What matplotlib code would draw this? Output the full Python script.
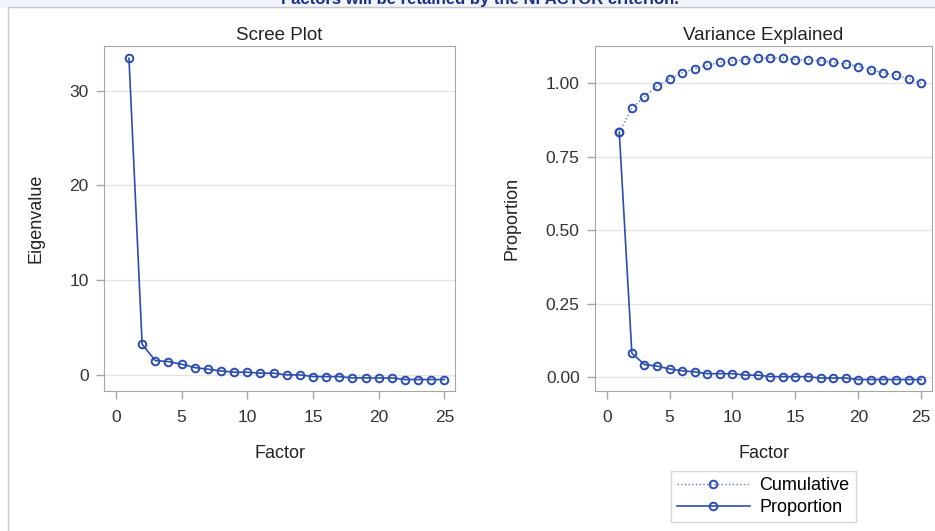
import matplotlib.pyplot as plt
from matplotlib.lines import Line2D

plt.rcParams['font.family'] = ['Liberation Sans', 'DejaVu Sans']

factors = list(range(1, 26))
eigenvalues = [33.4, 3.24, 1.51, 1.40, 1.13, 0.77, 0.60, 0.42, 0.28, 0.28,
               0.18, 0.18, 0.00, 0.00, -0.18, -0.18, -0.18, -0.32, -0.32, -0.32,
               -0.32, -0.49, -0.49, -0.49, -0.49]
proportion = [0.833, 0.081, 0.042, 0.037, 0.027, 0.021, 0.017, 0.011, 0.011, 0.011,
              0.006, 0.006, 0.001, 0.001, 0.001, 0.001, -0.004, -0.004, -0.004, -0.009,
              -0.009, -0.009, -0.009, -0.009, -0.009]
cumulative = [0.833, 0.915, 0.954, 0.991, 1.015, 1.036, 1.050, 1.061, 1.071, 1.075,
              1.080, 1.086, 1.086, 1.086, 1.080, 1.080, 1.076, 1.071, 1.066, 1.057,
              1.045, 1.036, 1.027, 1.016, 1.000]
x_ticks = [0, 5, 10, 15, 20, 25]
eig_ticks = [0, 10, 20, 30]
prop_ticks = [0.0, 0.25, 0.5, 0.75, 1.0]
prop_labels = ['0.00', '0.25', '0.50', '0.75', '1.00']

blue = '#2B4DB0'
frame = '#A6A6A6'
W, H = 935, 531

fig = plt.figure(figsize=(W / 100, H / 100), dpi=100)

# top banner with the note that is cut off in the original
fig.patches.append(plt.Rectangle((0, 1 - 7 / H), 1, 7 / H, transform=fig.transFigure,
                                 color='#F1F4FB', zorder=0))
fig.text(480 / W, 1 - 4 / H, 'Factors will be retained by the NFACTOR criterion.',
         ha='center', va='baseline', fontsize=12, fontweight='bold', color='#1B2E8A')
fig.add_artist(Line2D([8 / W, 1], [1 - 7 / H, 1 - 7 / H], transform=fig.transFigure,
                      color='#C8C8C8', lw=1))
fig.add_artist(Line2D([8 / W, 8 / W], [0, 1 - 7 / H], transform=fig.transFigure,
                      color='#C8C8C8', lw=1))


def style(ax):
    for s in ax.spines.values():
        s.set_color(frame)
    ax.tick_params(labelcolor='#333333', labelsize=12.5, length=6, width=1, color=frame)
    ax.tick_params(axis='x', pad=8)
    ax.tick_params(axis='y', pad=5)
    ax.yaxis.grid(True, color='#E4E4E4', lw=1)
    ax.set_axisbelow(True)
    ax.set_xticks(x_ticks)
    ax.set_xlabel('Factor', fontsize=13, color='#222222', labelpad=14)


ax1 = fig.add_axes([104 / W, 1 - 391 / H, 351 / W, 345 / H])
ax1.plot(factors, eigenvalues, color=blue, lw=1.2, marker='o', ms=5.5,
         mfc='none', mec=blue, mew=1.4)
ax1.set_xlim(-0.9, 25.8)
ax1.set_ylim(-1.7, 34.7)
ax1.set_yticks(eig_ticks)
ax1.set_ylabel('Eigenvalue', fontsize=13, color='#222222', labelpad=18)
ax1.set_title('Scree Plot', fontsize=13.5, color='#222222', pad=4)
style(ax1)

ax2 = fig.add_axes([595 / W, 1 - 391 / H, 337 / W, 345 / H])
ax2.plot(factors, cumulative, color='#5C7BD0', lw=1, ls=':', marker='o', ms=5.5,
         mfc='none', mec=blue, mew=1.4, label='Cumulative')
ax2.plot(factors, proportion, color=blue, lw=1.2, marker='o', ms=5.5,
         mfc='none', mec=blue, mew=1.4, label='Proportion')
ax2.set_xlim(-0.93, 25.86)
ax2.set_ylim(-0.048, 1.127)
ax2.set_yticks(prop_ticks)
ax2.set_yticklabels(prop_labels)
ax2.set_ylabel('Proportion', fontsize=13, color='#222222', labelpad=18)
ax2.set_title('Variance Explained', fontsize=13.5, color='#222222', pad=4)
style(ax2)

leg = ax2.legend(loc='upper center', bbox_to_anchor=(0.5, -80 / 345), borderaxespad=0,
                 frameon=True, fancybox=False, edgecolor='#CCCCCC', fontsize=13,
                 handlelength=4, borderpad=0.35, labelspacing=0.25, handletextpad=0.55)
leg.get_frame().set_linewidth(1)

fig.savefig('out.png', dpi=100)
